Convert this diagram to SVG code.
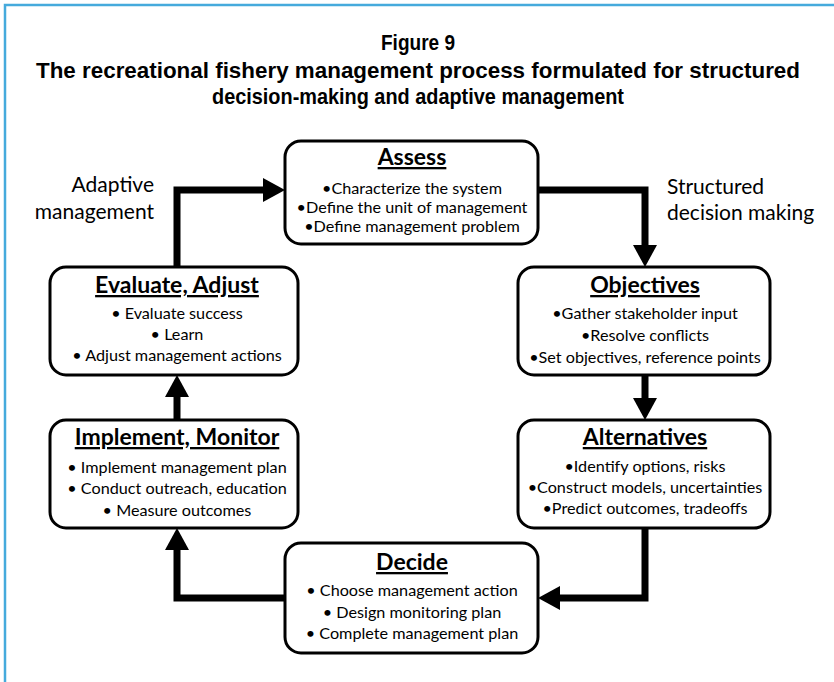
<svg xmlns="http://www.w3.org/2000/svg" width="834" height="682" viewBox="0 0 834 682">
  <style>
    .frame { fill: none; stroke: #45aadc; stroke-width: 2.5; }
    .title { font-family: "Liberation Sans", Arial, sans-serif; font-weight: bold; font-size: 21.5px; fill: #000; text-anchor: middle; }
    .box { fill: #fff; stroke: #000; stroke-width: 3; }
    .head { font-family: Lato, "Open Sans", sans-serif; font-weight: bold; font-size: 23px; fill: #000; text-anchor: middle; text-decoration: underline; }
    .item { font-family: Lato, "Open Sans", sans-serif; font-size: 16.2px; fill: #000; text-anchor: middle; }
    .side { font-family: Lato, "Open Sans", sans-serif; font-size: 21px; fill: #000; }
    .link { fill: none; stroke: #000; stroke-width: 7; stroke-linejoin: miter; }
  </style>
  <defs>
    <!-- arrowhead: the base sits on the end of the path, the tip points 22px further on -->
    <marker id="head" markerUnits="userSpaceOnUse" markerWidth="24" markerHeight="26" refX="0" refY="12" orient="auto">
      <path d="M0,0 L22,12 L0,24 Z" fill="#000"/>
    </marker>
  </defs>

  <rect width="834" height="682" fill="#fff"/>
  <path class="frame" d="M5,682 V5 H834"/>

  <g id="title">
    <text class="title" x="418" y="50" textLength="74" lengthAdjust="spacingAndGlyphs">Figure 9</text>
    <text class="title" x="418" y="78" textLength="764" lengthAdjust="spacingAndGlyphs">The recreational fishery management process formulated for structured</text>
    <text class="title" x="418" y="104" textLength="412" lengthAdjust="spacingAndGlyphs">decision-making and adaptive management</text>
  </g>

  <g id="labels">
    <text class="side" x="154" y="192" text-anchor="end">Adaptive</text>
    <text class="side" x="154" y="219" text-anchor="end">management</text>
    <text class="side" x="667" y="194">Structured</text>
    <text class="side" x="667" y="220">decision making</text>
  </g>

  <g id="connectors">
    <path class="link" d="M177,267 V190 H263" marker-end="url(#head)"/>
    <path class="link" d="M538,190 H645 V245" marker-end="url(#head)"/>
    <path class="link" d="M645,375 V398" marker-end="url(#head)"/>
    <path class="link" d="M645,528 V598 H560" marker-end="url(#head)"/>
    <path class="link" d="M285,598 H177 V550" marker-end="url(#head)"/>
    <path class="link" d="M177,420 V397" marker-end="url(#head)"/>
  </g>

  <g id="assess">
    <rect class="box" x="285" y="141" width="253" height="103" rx="16"/>
    <text class="head" x="412" y="165">Assess</text>
    <text class="item" x="412" y="194">•Characterize the system</text>
    <text class="item" x="412" y="213">•Define the unit of management</text>
    <text class="item" x="412" y="232">•Define management problem</text>
  </g>

  <g id="objectives">
    <rect class="box" x="518" y="267" width="252" height="108" rx="16"/>
    <text class="head" x="645" y="293">Objectives</text>
    <text class="item" x="645" y="319">•Gather stakeholder input</text>
    <text class="item" x="645" y="341">•Resolve conflicts</text>
    <text class="item" x="645" y="363">•Set objectives, reference points</text>
  </g>

  <g id="alternatives">
    <rect class="box" x="518" y="420" width="252" height="108" rx="16"/>
    <text class="head" x="645" y="445">Alternatives</text>
    <text class="item" x="645" y="472">•Identify options, risks</text>
    <text class="item" x="645" y="493">•Construct models, uncertainties</text>
    <text class="item" x="645" y="514">•Predict outcomes, tradeoffs</text>
  </g>

  <g id="decide">
    <rect class="box" x="285" y="543" width="253" height="110" rx="16"/>
    <text class="head" x="412" y="570">Decide</text>
    <text class="item" x="412" y="596">• Choose management action</text>
    <text class="item" x="412" y="618">• Design monitoring plan</text>
    <text class="item" x="412" y="639">• Complete management plan</text>
  </g>

  <g id="implement">
    <rect class="box" x="50" y="420" width="248" height="108" rx="16"/>
    <text class="head" x="177" y="445">Implement, Monitor</text>
    <text class="item" x="177" y="473">• Implement management plan</text>
    <text class="item" x="177" y="494">• Conduct outreach, education</text>
    <text class="item" x="177" y="516">• Measure outcomes</text>
  </g>

  <g id="evaluate">
    <rect class="box" x="50" y="267" width="248" height="108" rx="16"/>
    <text class="head" x="177" y="293">Evaluate, Adjust</text>
    <text class="item" x="177" y="319">• Evaluate success</text>
    <text class="item" x="177" y="340">• Learn</text>
    <text class="item" x="177" y="361">• Adjust management actions</text>
  </g>
</svg>
